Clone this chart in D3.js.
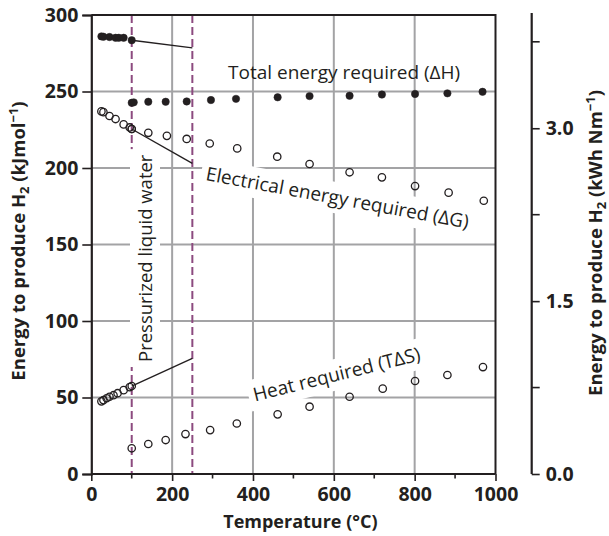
<!DOCTYPE html>
<html>
<head>
<meta charset="utf-8">
<script src="https://cdn.jsdelivr.net/npm/d3@7"></script>
<style>
  body { margin: 0; background: #fff; }
  svg { display: block; font-family: "Open Sans", sans-serif; }
</style>
</head>
<body>
<div id="chart"></div>
<script>
// temperatures (°C) and energies (kJ/mol)
const liquidT_H = [25, 30, 45, 60, 68, 80, 100];
const liquidH = [286, 285.8, 285.6, 285.1, 285.1, 285.1, 283.5];
const vaporT_H = [100, 105, 141, 184, 236, 296, 358, 461, 540, 639, 719, 801, 881, 968];
const vaporH = [242.6, 242.9, 243.3, 243.3, 243.5, 244.4, 245.2, 246.2, 247.0, 247.2, 248.0, 248.4, 248.8, 249.8];

const liquidT_G = [25, 30, 45, 60, 80, 95, 100];
const liquidG = [237, 236.5, 234, 232, 228.5, 226.5, 225.5];
const vaporT_G = [100, 141, 187, 236, 293, 361, 460, 540, 639, 719, 801, 884, 971];
const vaporG = [225.5, 223, 221, 219, 216, 212.8, 207.4, 202.6, 197.2, 193.9, 188.2, 183.9, 178.6];

const liquidT_S = [25, 30, 38, 45, 55, 65, 80, 95, 100];
const liquidS = [47.5, 48.3, 49.5, 50.5, 51.5, 52.8, 54.8, 56.8, 57.5];
const vaporT_S = [100, 141, 184, 233, 294, 360, 461, 540, 639, 721, 801, 881, 969];
const vaporS = [16.8, 19.6, 22.2, 26.1, 28.7, 33.0, 39.0, 44.0, 50.5, 55.8, 60.8, 64.7, 69.9];

// pressurized-water extrapolation lines
const trendT = [100, 250];
const trendH = [283.5, 278.5];
const trendG = [225.5, 203];
const trendS = [57.5, 75.5];

const phaseLines = [100, 250];
const leftTicks = [0, 50, 100, 150, 200, 250, 300];
const bottomTicks = [0, 200, 400, 600, 800, 1000];
const rightTicks = [0, 1.5, 3.0];
const rightMinor = [0.75, 2.25, 3.75];

const W = 609, H = 536;
const margin = { top: 15, left: 91.3, right: 609 - 495.5, bottom: 536 - 474 };
const ink = "#231f20";
const gridCol = "#a3a3a5";
const purple = "#8c4a7f";

const svg = d3.select("#chart").append("svg").attr("width", W).attr("height", H);

const x = d3.scaleLinear().domain([0, 1000]).range([margin.left, W - margin.right]);
const y = d3.scaleLinear().domain([0, 300]).range([H - margin.bottom, margin.top]);
const yR = d3.scaleLinear().domain([0, 4]).range([H - margin.bottom, 13]);

// grid
svg.append("g").selectAll("line").data([200, 400, 600, 800]).join("line")
  .attr("x1", d => x(d)).attr("x2", d => x(d))
  .attr("y1", y(300)).attr("y2", y(0))
  .attr("stroke", gridCol).attr("stroke-width", 2);
svg.append("g").selectAll("line").data([50, 100, 150, 200, 250]).join("line")
  .attr("x1", x(0)).attr("x2", x(1000))
  .attr("y1", d => y(d)).attr("y2", d => y(d))
  .attr("stroke", gridCol).attr("stroke-width", 2);

// phase boundary dashes
svg.append("g").selectAll("line").data(phaseLines).join("line")
  .attr("x1", d => x(d)).attr("x2", d => x(d))
  .attr("y1", y(300)).attr("y2", y(0))
  .attr("stroke", purple).attr("stroke-width", 2)
  .attr("stroke-dasharray", "8,4");

// labels with white boxes that break the grid
function boxedLabel(str, px, py, angle, size, boxed) {
  const g = svg.append("g").attr("transform", `translate(${px},${py}) rotate(${angle})`);
  const rect = g.append("rect").attr("fill", "#fff");
  const t = g.append("text").attr("font-size", size).attr("fill", ink).text(str);
  const b = t.node().getBBox();
  if (boxed) {
    rect.attr("x", b.x - 5).attr("y", b.y - 2).attr("width", b.width + 10).attr("height", b.height + 5);
  } else rect.remove();
}
boxedLabel("Pressurized liquid water", 152, 362, -90, 18.5, true);
boxedLabel("Electrical energy required (\u0394G)", 205, 180, 10.5, 19, true);
boxedLabel("Heat required (T\u0394S)", 255, 401.5, -14, 19, true);
boxedLabel("Total energy required (\u0394H)", 228, 79, 0, 19, false);

// extrapolation lines
const line = d3.line().x(d => x(d[0])).y(d => y(d[1]));
[trendH, trendG, trendS].forEach(vals => {
  svg.append("path")
    .attr("d", line(d3.zip(trendT, vals)))
    .attr("fill", "none").attr("stroke", ink).attr("stroke-width", 1.4);
});

// markers
function points(ts, vs, filled) {
  svg.append("g").selectAll("circle").data(d3.zip(ts, vs)).join("circle")
    .attr("cx", d => x(d[0])).attr("cy", d => y(d[1]))
    .attr("r", 3.7)
    .attr("fill", filled ? ink : "none")
    .attr("stroke", ink).attr("stroke-width", filled ? 0.5 : 1.3);
}
points(liquidT_H, liquidH, true);
points(vaporT_H, vaporH, true);
points(liquidT_G, liquidG, false);
points(vaporT_G, vaporG, false);
points(liquidT_S, liquidS, false);
points(vaporT_S, vaporS, false);

// frame (top + right)
svg.append("path")
  .attr("d", `M${x(0)},${y(300)}H${x(1000)}V${y(0)}`)
  .attr("fill", "none").attr("stroke", ink).attr("stroke-width", 2);

// left axis
const gl = svg.append("g").attr("transform", `translate(${x(0)},0)`)
  .call(d3.axisLeft(y).tickValues(leftTicks).tickSize(9).tickPadding(4));
// bottom axis
const gb = svg.append("g").attr("transform", `translate(0,${y(0)})`)
  .call(d3.axisBottom(x).tickValues(bottomTicks).tickSize(7).tickPadding(6)
    .tickFormat(d3.format("d")));
svg.append("g").selectAll("line").data([100, 300, 500, 700, 900]).join("line")
  .attr("x1", d => x(d)).attr("x2", d => x(d))
  .attr("y1", y(0) - 1).attr("y2", y(0) + 4.5)
  .attr("stroke", ink).attr("stroke-width", 1.6);
// right axis
const gr = svg.append("g").attr("transform", `translate(531.7,0)`)
  .call(d3.axisRight(yR).tickValues(rightTicks).tickSize(8).tickPadding(6)
    .tickFormat(d3.format(".1f")));
svg.append("g").selectAll("line").data(rightMinor).join("line")
  .attr("x1", 531.7).attr("x2", 539.7)
  .attr("y1", d => yR(d)).attr("y2", d => yR(d))
  .attr("stroke", ink).attr("stroke-width", 1.6);

[gl, gb, gr].forEach(g => {
  g.select(".domain").attr("stroke", ink).attr("stroke-width", 2.2);
  g.selectAll(".tick line").attr("stroke", ink).attr("stroke-width", 1.6);
  g.selectAll(".tick text").attr("fill", ink)
    .attr("font-family", "Open Sans").attr("font-weight", "bold").attr("font-size", 19.5);
});
gb.select(".domain").attr("d", `M${x(0)},0H${x(1000)}`);
gr.select(".domain").attr("d", `M0,${yR(4)}V${yR(0)}`);

// axis titles
svg.append("text")
  .attr("x", (x(0) + x(1000)) / 2 + 7).attr("y", 528)
  .attr("text-anchor", "middle").attr("font-weight", "bold").attr("font-size", 18)
  .attr("fill", ink).text("Temperature (\u00B0C)");

function yTitle(px, py, unit) {
  const t = svg.append("text")
    .attr("transform", `translate(${px},${py}) rotate(-90)`)
    .attr("text-anchor", "middle").attr("font-weight", "bold").attr("font-size", 18.5)
    .attr("fill", ink);
  t.append("tspan").text("Energy to produce H");
  t.append("tspan").attr("dy", 4).attr("font-size", 13).text("2");
  t.append("tspan").attr("dy", -4).text(" (" + unit);
  t.append("tspan").attr("dy", -7).attr("font-size", 13).text("\u22121");
  t.append("tspan").attr("dy", 7).text(")");
}
yTitle(25, 241, "kJmol");
yTitle(602, 243, "kWh Nm");
</script>
</body>
</html>
